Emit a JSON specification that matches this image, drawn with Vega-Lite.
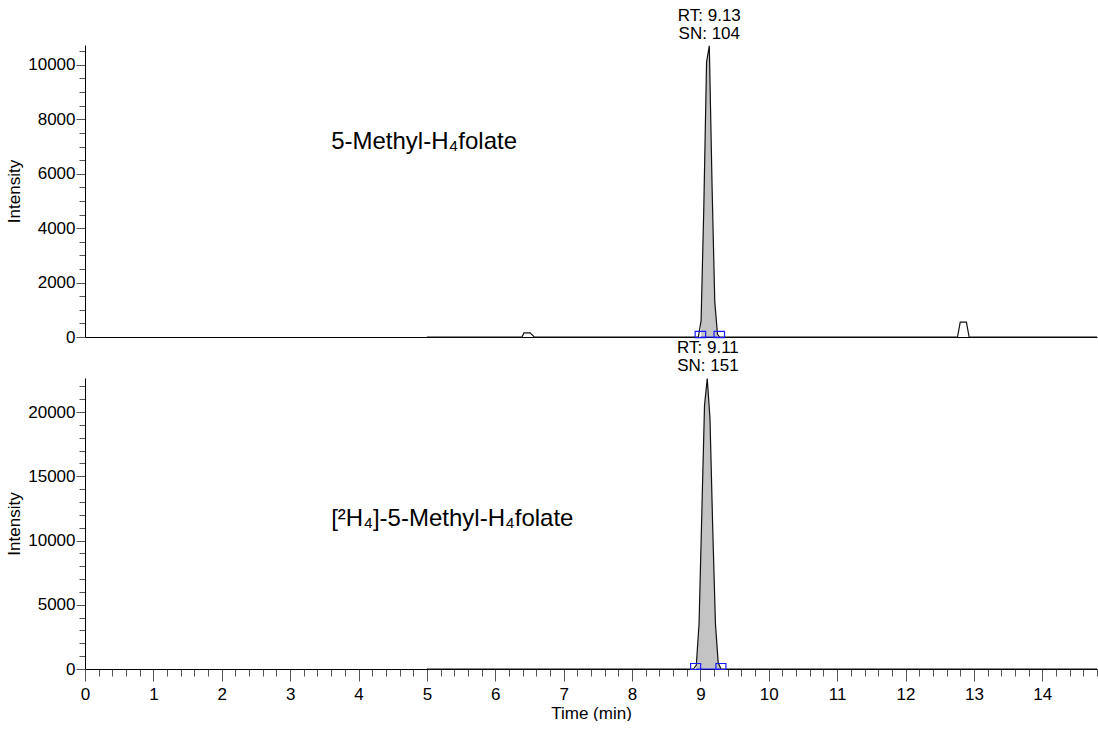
{
  "$schema": "https://vega.github.io/schema/vega-lite/v6.json",
  "padding": {"left": 5, "top": 6, "right": 0, "bottom": 0},
  "spacing": 41,
  "bounds": "flush",
  "config": {
    "view": {"stroke": null},
    "font": "Liberation Sans",
    "text": {"font": "Liberation Sans"},
    "axis": {
      "labelFont": "Liberation Sans", "titleFont": "Liberation Sans",
      "labelFontSize": 17, "titleFontSize": 17, "titleFontWeight": "normal",
      "labelColor": "#000", "titleColor": "#000", "domainColor": "#000", "tickColor": "#555",
      "grid": false
    }
  },
  "datasets": {
    "trace": [
      {"panel": "A", "time": 5.0, "intensity": 0},
      {"panel": "A", "time": 6.39, "intensity": 0},
      {"panel": "A", "time": 6.42, "intensity": 150},
      {"panel": "A", "time": 6.51, "intensity": 150},
      {"panel": "A", "time": 6.57, "intensity": 0},
      {"panel": "A", "time": 8.97, "intensity": 0},
      {"panel": "A", "time": 9.01, "intensity": 600},
      {"panel": "A", "time": 9.05, "intensity": 4800},
      {"panel": "A", "time": 9.09, "intensity": 10100},
      {"panel": "A", "time": 9.13, "intensity": 10700},
      {"panel": "A", "time": 9.17, "intensity": 5600},
      {"panel": "A", "time": 9.21, "intensity": 1300},
      {"panel": "A", "time": 9.25, "intensity": 100},
      {"panel": "A", "time": 9.28, "intensity": 0},
      {"panel": "A", "time": 12.76, "intensity": 0},
      {"panel": "A", "time": 12.8, "intensity": 550},
      {"panel": "A", "time": 12.89, "intensity": 550},
      {"panel": "A", "time": 12.93, "intensity": 0},
      {"panel": "A", "time": 14.8, "intensity": 0},
      {"panel": "B", "time": 5.0, "intensity": 0},
      {"panel": "B", "time": 8.9, "intensity": 0},
      {"panel": "B", "time": 8.94, "intensity": 300},
      {"panel": "B", "time": 8.98, "intensity": 3500},
      {"panel": "B", "time": 9.02, "intensity": 12000},
      {"panel": "B", "time": 9.06, "intensity": 20500},
      {"panel": "B", "time": 9.1, "intensity": 22600},
      {"panel": "B", "time": 9.14, "intensity": 19500},
      {"panel": "B", "time": 9.18, "intensity": 11000},
      {"panel": "B", "time": 9.22, "intensity": 3500},
      {"panel": "B", "time": 9.26, "intensity": 500},
      {"panel": "B", "time": 9.3, "intensity": 0},
      {"panel": "B", "time": 14.8, "intensity": 0}
    ],
    "peaks": [
      {"panel": "A", "start": 9.0, "end": 9.276, "rt": 9.13, "apex": 10700, "label": "RT: 9.13\nSN: 104", "base": 0},
      {"panel": "B", "start": 8.93, "end": 9.3, "rt": 9.11, "apex": 22600, "label": "RT: 9.11\nSN: 151", "base": 0}
    ],
    "names": [
      {"panel": "A", "time": 3.6, "intensity": 6900, "name": "5-Methyl-H₄folate"},
      {"panel": "B", "time": 3.6, "intensity": 11100, "name": "[²H₄]-5-Methyl-H₄folate"}
    ]
  },
  "vconcat": [
    {
      "width": 1012,
      "height": 292,
      "encoding": {
        "x": {"field": "time", "type": "quantitative", "scale": {"domain": [0, 14.8], "nice": false, "zero": false},
              "axis": {"title": null, "labels": false, "ticks": false, "domain": true}},
        "y": {"field": "intensity", "type": "quantitative", "scale": {"domain": [0, 10730], "nice": false},
              "axis": {"title": "Intensity", "values": [0,500,1000,1500,2000,2500,3000,3500,4000,4500,5000,5500,6000,6500,7000,7500,8000,8500,9000,9500,10000,10500],
                       "format": "d", "labelExpr": "datum.value % 2000 == 0 ? datum.label : ''",
                       "tickSize": {"condition": {"test": "datum.value % 2000 == 0", "value": 9}, "value": 6},
                       "labelPadding": 1, "titlePadding": 4}}
      },
      "layer": [
        {
          "data": {"name": "trace"},
          "transform": [{"filter": "datum.panel == 'A' && datum.time >= 9.0 && datum.time <= 9.276"}],
          "mark": {"type": "area", "color": "#c3c3c3", "interpolate": "linear"}
        },
        {
          "data": {"name": "trace"},
          "transform": [{"filter": "datum.panel == 'A'"}],
          "mark": {"type": "line", "color": "#111", "strokeWidth": 1.2}
        },
        {
          "data": {"name": "peaks"},
          "transform": [{"filter": "datum.panel == 'A'"}],
          "mark": {"type": "rule", "color": "#1a1aff", "strokeWidth": 1},
          "encoding": {"x": {"field": "start", "type": "quantitative"}, "x2": {"field": "end"}, "y": {"field": "base", "type": "quantitative"}}
        },
        {
          "data": {"name": "peaks"},
          "transform": [{"filter": "datum.panel == 'A'"}, {"fold": ["start", "end"], "as": ["edge", "t"]}],
          "mark": {"type": "point", "shape": "M-1,-0.6H1V0.6H-1Z", "size": 110, "filled": false, "stroke": "#1a1aff", "strokeWidth": 1.2, "opacity": 1, "yOffset": -2.5},
          "encoding": {"x": {"field": "t", "type": "quantitative"}, "y": {"field": "base", "type": "quantitative"}}
        },
        {
          "data": {"name": "peaks"},
          "transform": [{"filter": "datum.panel == 'A'"}],
          "mark": {"type": "text", "fontSize": 17, "lineBreak": "\n", "lineHeight": 18, "align": "center", "baseline": "alphabetic", "dy": -25, "color": "#000"},
          "encoding": {"x": {"field": "rt", "type": "quantitative"}, "y": {"field": "apex", "type": "quantitative"}, "text": {"field": "label"}}
        },
        {
          "data": {"name": "names"},
          "transform": [{"filter": "datum.panel == 'A'"}],
          "mark": {"type": "text", "fontSize": 24, "align": "left", "baseline": "alphabetic", "color": "#000"},
          "encoding": {"text": {"field": "name"}}
        }
      ]
    },
    {
      "width": 1012,
      "height": 291,
      "encoding": {
        "x": {"field": "time", "type": "quantitative", "scale": {"domain": [0, 14.8], "nice": false, "zero": false},
              "axis": {"title": "Time (min)",
                       "values": [0,0.2,0.4,0.6,0.8,1,1.2,1.4,1.6,1.8,2,2.2,2.4,2.6,2.8,3,3.2,3.4,3.6,3.8,4,4.2,4.4,4.6,4.8,5,5.2,5.4,5.6,5.8,6,6.2,6.4,6.6,6.8,7,7.2,7.4,7.6,7.8,8,8.2,8.4,8.6,8.8,9,9.2,9.4,9.6,9.8,10,10.2,10.4,10.6,10.8,11,11.2,11.4,11.6,11.8,12,12.2,12.4,12.6,12.8,13,13.2,13.4,13.6,13.8,14,14.2,14.4,14.6,14.8],
                       "labelExpr": "abs(datum.value - round(datum.value)) < 0.001 ? format(datum.value, 'd') : ''",
                       "tickSize": {"condition": {"test": "abs(datum.value - round(datum.value)) < 0.001", "value": 12}, "value": 7},
                       "labelPadding": 5, "titlePadding": 3, "labelFlush": false, "labelOverlap": false}},
        "y": {"field": "intensity", "type": "quantitative", "scale": {"domain": [0, 22650], "nice": false},
              "axis": {"title": "Intensity", "values": [0,1000,2000,3000,4000,5000,6000,7000,8000,9000,10000,11000,12000,13000,14000,15000,16000,17000,18000,19000,20000,21000,22000],
                       "format": "d", "labelExpr": "datum.value % 5000 == 0 ? datum.label : ''",
                       "tickSize": {"condition": {"test": "datum.value % 5000 == 0", "value": 9}, "value": 6},
                       "labelPadding": 1, "titlePadding": 4}}
      },
      "layer": [
        {
          "data": {"name": "trace"},
          "transform": [{"filter": "datum.panel == 'B' && datum.time >= 8.93 && datum.time <= 9.3"}],
          "mark": {"type": "area", "color": "#c3c3c3", "interpolate": "linear"}
        },
        {
          "data": {"name": "trace"},
          "transform": [{"filter": "datum.panel == 'B'"}],
          "mark": {"type": "line", "color": "#111", "strokeWidth": 1.2}
        },
        {
          "data": {"name": "peaks"},
          "transform": [{"filter": "datum.panel == 'B'"}],
          "mark": {"type": "rule", "color": "#1a1aff", "strokeWidth": 1},
          "encoding": {"x": {"field": "start", "type": "quantitative"}, "x2": {"field": "end"}, "y": {"field": "base", "type": "quantitative"}}
        },
        {
          "data": {"name": "peaks"},
          "transform": [{"filter": "datum.panel == 'B'"}, {"fold": ["start", "end"], "as": ["edge", "t"]}],
          "mark": {"type": "point", "shape": "M-1,-0.6H1V0.6H-1Z", "size": 100, "filled": false, "stroke": "#1a1aff", "strokeWidth": 1.2, "opacity": 1, "yOffset": -2.5},
          "encoding": {"x": {"field": "t", "type": "quantitative"}, "y": {"field": "base", "type": "quantitative"}}
        },
        {
          "data": {"name": "peaks"},
          "transform": [{"filter": "datum.panel == 'B'"}],
          "mark": {"type": "text", "fontSize": 17, "lineBreak": "\n", "lineHeight": 18, "align": "center", "baseline": "alphabetic", "dy": -26, "color": "#000"},
          "encoding": {"x": {"field": "rt", "type": "quantitative"}, "y": {"field": "apex", "type": "quantitative"}, "text": {"field": "label"}}
        },
        {
          "data": {"name": "names"},
          "transform": [{"filter": "datum.panel == 'B'"}],
          "mark": {"type": "text", "fontSize": 24, "align": "left", "baseline": "alphabetic", "color": "#000"},
          "encoding": {"text": {"field": "name"}}
        }
      ]
    }
  ]
}
